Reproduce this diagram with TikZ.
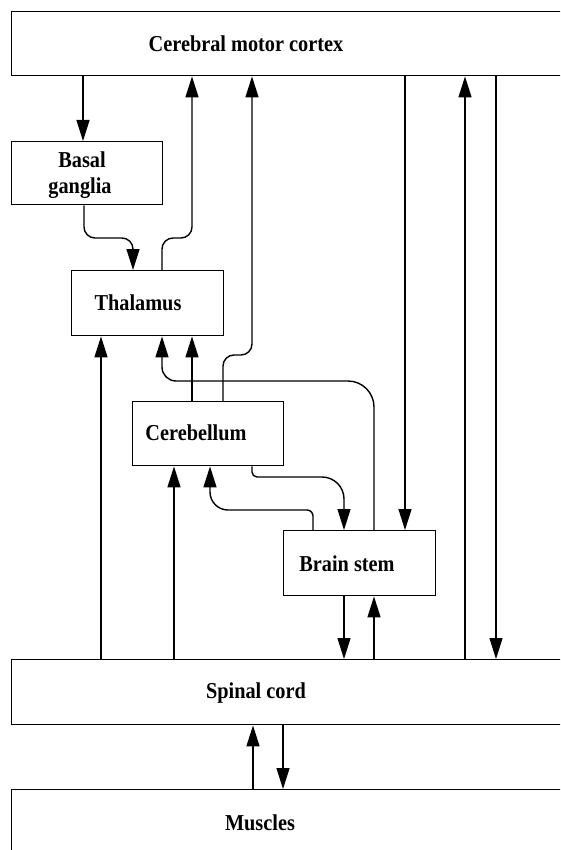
\documentclass[tikz,border=0pt]{standalone}
\usepackage{fontspec}
\setmainfont{Liberation Serif}
\usetikzlibrary{arrows.meta}
\newcommand{\tallt}[1]{\scalebox{1}[1.12]{#1}}
\tikzset{
  box/.style={draw, line width=1.4pt, rectangle, inner sep=0pt, anchor=north west},
  lbl/.style={font=\fontsize{20.3}{28}\selectfont\bfseries, inner sep=0pt},
  arr/.style={line width=1.4pt, -{Triangle[length=21pt,width=13pt]}},
}
\begin{document}
\begin{tikzpicture}[x=1pt,y=-1pt]
\useasboundingbox (0,0) rectangle (560,850);
\clip (0,0) rectangle (560,850);
% boxes
\node[box, minimum width=600pt, minimum height=64pt] (cortex) at (11,11) {};
\node[box, minimum width=151pt, minimum height=63pt] (bg) at (11,141) {};
\node[box, minimum width=152pt, minimum height=65pt] (thal) at (71,270) {};
\node[box, minimum width=151pt, minimum height=64pt] (cereb) at (132,401) {};
\node[box, minimum width=152pt, minimum height=65pt] (bs) at (283,530) {};
\node[box, minimum width=600pt, minimum height=65pt] (spinal) at (11,659) {};
\node[box, minimum width=600pt, minimum height=100pt] (muscles) at (11,789) {};
% labels
\node[lbl] at (246,44) {\tallt{Cerebral motor cortex}};
\node[lbl] at (82,160) {\tallt{Basal}};
\node[lbl] at (80,188) {\tallt{ganglia}};
\node[lbl] at (138,303) {\tallt{Thalamus}};
\node[lbl] at (196,433) {\tallt{Cerebellum}};
\node[lbl] at (347,564) {\tallt{Brain stem}};
\node[lbl] at (256,693) {\tallt{Spinal cord}};
\node[lbl] at (260,823) {\tallt{Muscles}};
% connectors
\draw[arr] (83,0 |- cortex.south) -- (83,0 |- bg.north);
\draw[arr, rounded corners=11pt] (84,0 |- bg.south) -- (84,238) -- (133,238) -- (133,0 |- thal.north);
\draw[arr, rounded corners=11pt] (162,0 |- thal.north) -- (162,238) -- (192,238) -- (192,0 |- cortex.south);
\draw[arr, rounded corners=11pt] (223,0 |- cereb.north) -- (223,355) -- (252,355) -- (252,0 |- cortex.south);
\draw[arr] (192,0 |- cereb.north) -- (192,0 |- thal.south);
\draw[arr, rounded corners=26pt] (374,0 |- bs.north) -- (374,381) [rounded corners=14pt] -- (162,381) -- (162,0 |- thal.south);
\draw[arr, rounded corners=5pt] (252,0 |- cereb.south) -- (252,477) [rounded corners=22pt] -- (344,477) -- (344,0 |- bs.north);
\draw[arr, rounded corners=6pt] (313,0 |- bs.north) -- (313,510) [rounded corners=18pt] -- (210,510) -- (210,0 |- cereb.south);
\draw[arr] (174,0 |- spinal.north) -- (174,0 |- cereb.south);
\draw[arr] (101,0 |- spinal.north) -- (101,0 |- thal.south);
\draw[arr] (344,0 |- bs.south) -- (344,0 |- spinal.north);
\draw[arr] (374,0 |- spinal.north) -- (374,0 |- bs.south);
\draw[arr] (405,0 |- cortex.south) -- (405,0 |- bs.north);
\draw[arr] (465,0 |- spinal.north) -- (465,0 |- cortex.south);
\draw[arr] (496,0 |- cortex.south) -- (496,0 |- spinal.north);
\draw[arr] (283,0 |- spinal.south) -- (283,0 |- muscles.north);
\draw[arr] (253,0 |- muscles.north) -- (253,0 |- spinal.south);
\end{tikzpicture}
\end{document}
